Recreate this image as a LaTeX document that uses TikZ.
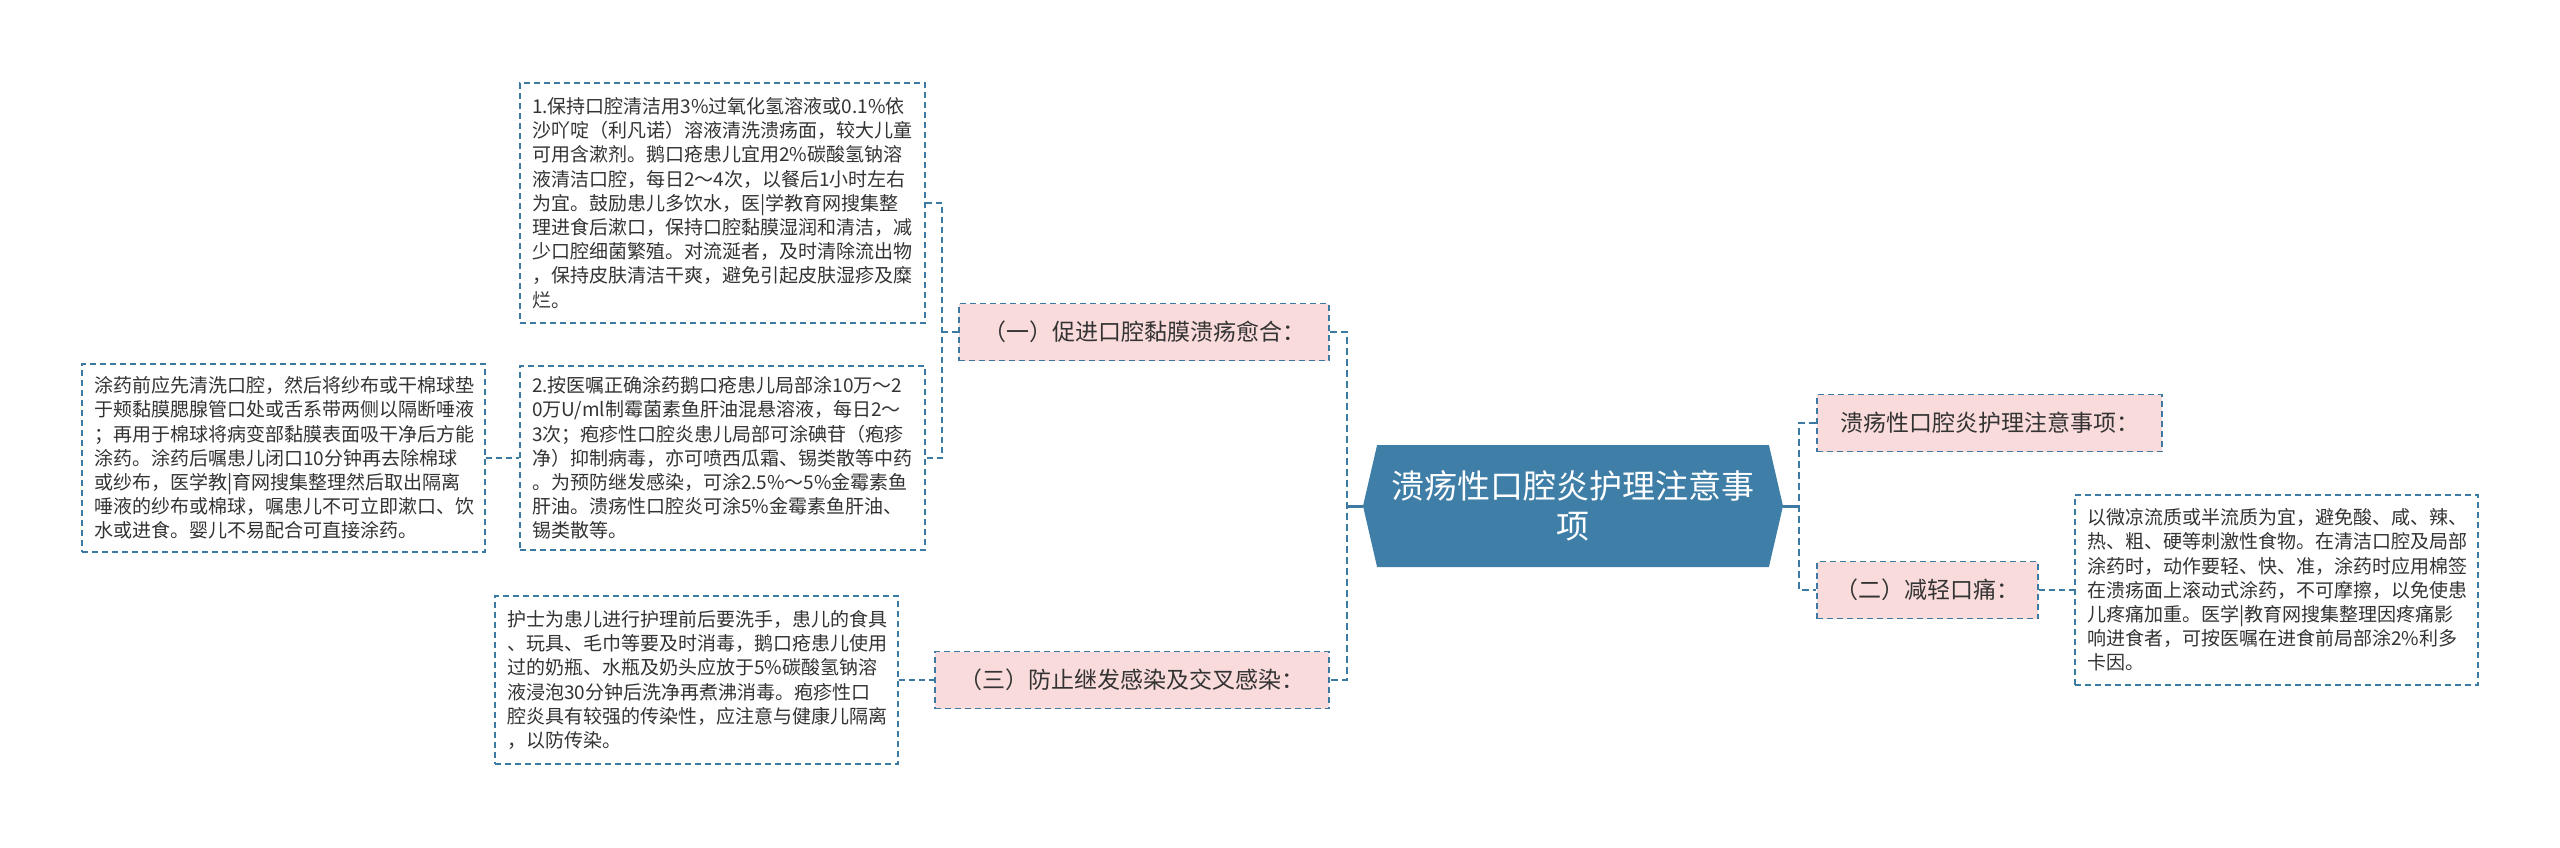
\documentclass[tikz,border=0pt]{standalone}
\usepackage{fontspec}
\setmainfont{Noto Sans CJK SC}
\usetikzlibrary{shapes.symbols}
\definecolor{bcol}{HTML}{3D7AA3}
\definecolor{pinkf}{HTML}{FADBDB}
\definecolor{rootf}{HTML}{3F7EA7}
\definecolor{txt}{HTML}{333333}
\begin{document}
\begin{tikzpicture}[x=1pt,y=-1pt,
  dashb/.style={draw=bcol, line width=1.4pt, dash pattern=on 6pt off 4pt},
  leaf/.style={dashb, fill=white, text=txt, font=\fontsize{19pt}{24.2pt}\selectfont, align=left, inner xsep=12pt, inner ysep=0pt},
  sub/.style={dashb, fill=pinkf, text=txt, font=\fontsize{23pt}{28pt}\selectfont, minimum height=57pt, inner xsep=12pt},
  rootn/.style={signal, signal to=west and east, signal pointer angle=154, fill=rootf, text=white, font=\fontsize{33pt}{40pt}\selectfont, align=center, minimum width=420pt, minimum height=122pt},
  conn/.style={dashb},
  mainconn/.style={draw=bcol, line width=2.2pt, dash pattern=on 7pt off 4pt},
  rootconn/.style={draw=bcol, line width=3pt}]
\fill[white] (0,0) rectangle (2560,847);
\useasboundingbox (0,0) rectangle (2560,847);

\coordinate (lj) at (1347,506);
\coordinate (lk) at (942,332);
\coordinate (rj) at (1799,506);

\node[rootn] (root) at (1573,506) {溃疡性口腔炎护理注意事\\项};

\node[sub, minimum width=370pt] (s1) at (1144,332) {（一）促进口腔黏膜溃疡愈合：};
\node[sub, minimum width=394pt] (s3) at (1132,680) {（三）防止继发感染及交叉感染：};
\node[sub, minimum width=345pt] (r1) at (1989.5,423) {溃疡性口腔炎护理注意事项：};
\node[sub, minimum width=221pt] (s2) at (1927.5,590) {（二）减轻口痛：};

\node[leaf, text width=381pt, minimum height=240pt] (b1) at (722.5,203) {1.保持口腔清洁用3\%过氧化氢溶液或0.1\%依\\沙吖啶（利凡诺）溶液清洗溃疡面，较大儿童\\可用含漱剂。鹅口疮患儿宜用2\%碳酸氢钠溶\\液清洁口腔，每日2～4次，以餐后1小时左右\\为宜。鼓励患儿多饮水，医|学教育网搜集整\\理进食后漱口，保持口腔黏膜湿润和清洁，减\\少口腔细菌繁殖。对流涎者，及时清除流出物\\，保持皮肤清洁干爽，避免引起皮肤湿疹及糜\\烂。};
\node[leaf, text width=381pt, minimum height=184pt] (b2) at (722.5,458) {2.按医嘱正确涂药鹅口疮患儿局部涂10万～2\\0万U/ml制霉菌素鱼肝油混悬溶液，每日2～\\3次；疱疹性口腔炎患儿局部可涂碘苷（疱疹\\净）抑制病毒，亦可喷西瓜霜、锡类散等中药\\。为预防继发感染，可涂2.5\%～5\%金霉素鱼\\肝油。溃疡性口腔炎可涂5\%金霉素鱼肝油、\\锡类散等。};
\node[leaf, text width=379pt, minimum height=188pt] (b3) at (283.5,458) {涂药前应先清洗口腔，然后将纱布或干棉球垫\\于颊黏膜腮腺管口处或舌系带两侧以隔断唾液\\；再用于棉球将病变部黏膜表面吸干净后方能\\涂药。涂药后嘱患儿闭口10分钟再去除棉球\\或纱布，医学教|育网搜集整理然后取出隔离\\唾液的纱布或棉球，嘱患儿不可立即漱口、饮\\水或进食。婴儿不易配合可直接涂药。};
\node[leaf, text width=379pt, minimum height=168pt] (b4) at (696.5,680) {护士为患儿进行护理前后要洗手，患儿的食具\\、玩具、毛巾等要及时消毒，鹅口疮患儿使用\\过的奶瓶、水瓶及奶头应放于5\%碳酸氢钠溶\\液浸泡30分钟后洗净再煮沸消毒。疱疹性口\\腔炎具有较强的传染性，应注意与健康儿隔离\\，以防传染。};
\node[leaf, text width=379pt, minimum height=190pt] (b5) at (2276.5,590) {以微凉流质或半流质为宜，避免酸、咸、辣、\\热、粗、硬等刺激性食物。在清洁口腔及局部\\涂药时，动作要轻、快、准，涂药时应用棉签\\在溃疡面上滚动式涂药，不可摩擦，以免使患\\儿疼痛加重。医学|教育网搜集整理因疼痛影\\响进食者，可按医嘱在进食前局部涂2\%利多\\卡因。};

\draw[rootconn] (root.west) -- (lj);
\draw[mainconn] (s1.east) -| (lj) |- (s3.east);
\draw[rootconn] (root.east) -- (rj);
\draw[mainconn] (r1.west) -| (rj) |- (s2.west);
\draw[conn] (b1.east) -| (lk) |- (b2.east);
\draw[conn] (s1.west) -- (lk);
\draw[conn] (b3.east) -- (b2.west);
\draw[conn] (b4.east) -- (s3.west);
\draw[conn] (s2.east) -- (b5.west);
\end{tikzpicture}
\end{document}
